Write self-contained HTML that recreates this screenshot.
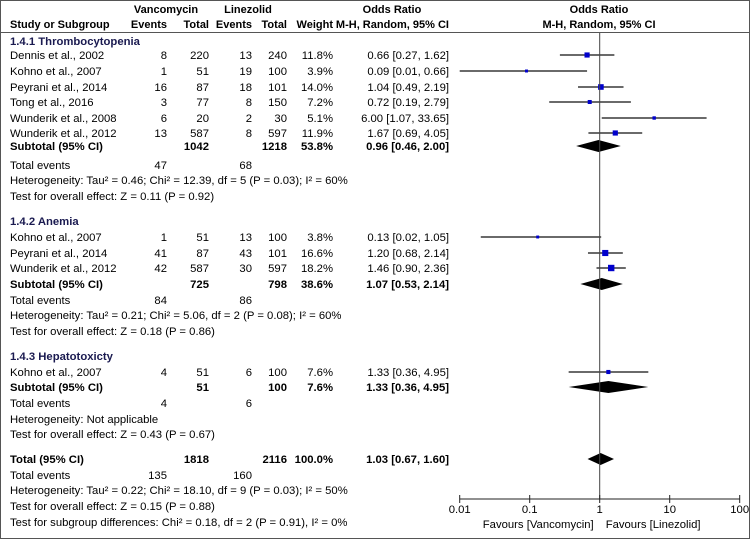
<!DOCTYPE html>
<html><head><meta charset="utf-8"><style>
html,body{margin:0;padding:0;background:#fff}
svg{display:block;font-family:"Liberation Sans",Arial,sans-serif;font-size:11.3px}
.b{font-weight:bold}.h{font-weight:bold;fill:#1a1a50}
.hd{font-size:11px}
</style></head><body>
<svg id="c" width="750" height="539">
<rect x="0.5" y="0.5" width="749" height="538" fill="#fff" stroke="#555"/>
<line x1="0" y1="32.5" x2="750" y2="32.5" stroke="#555"/>
<g class="b hd">
<text x="166" y="13" text-anchor="middle">Vancomycin</text>
<text x="248" y="13" text-anchor="middle">Linezolid</text>
<text x="392" y="13" text-anchor="middle">Odds Ratio</text>
<text x="599" y="13" text-anchor="middle">Odds Ratio</text>
<text x="10" y="28">Study or Subgroup</text>
<text x="167" y="28" text-anchor="end">Events</text>
<text x="209" y="28" text-anchor="end">Total</text>
<text x="252" y="28" text-anchor="end">Events</text>
<text x="287" y="28" text-anchor="end">Total</text>
<text x="333" y="28" text-anchor="end">Weight</text>
<text x="449" y="28" text-anchor="end">M-H, Random, 95% CI</text>
<text x="599" y="28" text-anchor="middle">M-H, Random, 95% CI</text>
</g>
<g id="rows"></g>
<g id="marks"></g>
</svg>
<script>
const studies=["Dennis et al., 2002","Kohno et al., 2007","Peyrani et al., 2014","Tong et al., 2016","Wunderik et al., 2008","Wunderik et al., 2012","Kohno et al., 2007","Peyrani et al., 2014","Wunderik et al., 2012","Kohno et al., 2007"];
const studyY=[55,71,87,102,118,133,237,253,268,372];
const vEvents=[8,1,16,3,6,13,1,41,42,4];
const vTotal=[220,51,87,77,20,587,51,87,587,51];
const lEvents=[13,19,18,8,2,8,13,43,30,6];
const lTotal=[240,100,101,150,30,597,100,101,597,100];
const weights=[11.8,3.9,14.0,7.2,5.1,11.9,3.8,16.6,18.2,7.6];
const orVal=[0.66,0.09,1.04,0.72,6.00,1.67,0.13,1.20,1.46,1.33];
const orLo=[0.27,0.01,0.49,0.19,1.07,0.69,0.02,0.68,0.90,0.36];
const orHi=[1.62,0.66,2.19,2.79,33.65,4.05,1.05,2.14,2.36,4.95];
const subLabels=["Subtotal (95% CI)","Subtotal (95% CI)","Subtotal (95% CI)","Total (95% CI)"];
const subY=[146,284,387,459];
const subVT=[1042,725,51,1818];
const subLT=[1218,798,100,2116];
const subW=["53.8%","38.6%","7.6%","100.0%"];
const subOR=[0.96,1.07,1.33,1.03];
const subLo=[0.46,0.53,0.36,0.67];
const subHi=[2.00,2.14,4.95,1.60];
const ticks=[0.01,0.1,1,10,100];
const tickLabels=["0.01","0.1","1","10","100"];

const NS="http://www.w3.org/2000/svg";
const rows=document.getElementById('rows'),marks=document.getElementById('marks');
function X(v){return 599.7+70*Math.log10(v);}
function mk(tag,attrs,parent,txt){const e=document.createElementNS(NS,tag);for(const k in attrs)e.setAttribute(k,attrs[k]);if(txt!==undefined)e.textContent=txt;parent.appendChild(e);return e;}
function T(x,y,s,anchor,cls){const e=mk('text',{x:x,y:y+4,'text-anchor':anchor||'start'},rows,s);if(cls)e.setAttribute('class',cls);return e;}
const f2=v=>v.toFixed(2);
const head=[["1.4.1 Thrombocytopenia",41],["1.4.2 Anemia",221],["1.4.3 Hepatotoxicty",356]];
head.forEach(h=>{const e=T(10,h[1],h[0],'start','h');

});
studies.forEach((s,i)=>{const y=studyY[i];
const e=T(10,y,s);


T(167,y,vEvents[i],'end');T(209,y,vTotal[i],'end');T(252,y,lEvents[i],'end');T(287,y,lTotal[i],'end');
T(333,y,weights[i].toFixed(1)+'%','end');
T(449,y,f2(orVal[i])+' ['+f2(orLo[i])+', '+f2(orHi[i])+']','end');
const l=mk('line',{x1:Math.max(X(orLo[i]),459.7),x2:Math.min(X(orHi[i]),739.7),y1:y,y2:y,stroke:'#111','stroke-width':1.2},marks);


const sz=Math.max(2,Math.sqrt(weights[i])*1.5);
const r=mk('rect',{x:X(orVal[i])-sz/2,y:y-sz/2,width:sz,height:sz,fill:'#0000cc'},marks);


});
subLabels.forEach((s,i)=>{const y=subY[i];
const e=T(10,y,s,'start','b');


T(209,y,subVT[i],'end','b');T(287,y,subLT[i],'end','b');T(333,y,subW[i],'end','b');
T(449,y,f2(subOR[i])+' ['+f2(subLo[i])+', '+f2(subHi[i])+']','end','b');
const d=mk('polygon',{points:`${X(subLo[i])},${y} ${X(subOR[i])},${y-6} ${X(subHi[i])},${y} ${X(subOR[i])},${y+6}`,fill:'#000'},marks);


});
const extra=[["Total events",165,"47","68"],["Heterogeneity: Tau² = 0.46; Chi² = 12.39, df = 5 (P = 0.03); I² = 60%",180],["Test for overall effect: Z = 0.11 (P = 0.92)",196],
["Total events",300,"84","86"],["Heterogeneity: Tau² = 0.21; Chi² = 5.06, df = 2 (P = 0.08); I² = 60%",315],["Test for overall effect: Z = 0.18 (P = 0.86)",331],
["Total events",403,"4","6"],["Heterogeneity: Not applicable",419],["Test for overall effect: Z = 0.43 (P = 0.67)",434],
["Total events",475,"135","160"],["Heterogeneity: Tau² = 0.22; Chi² = 18.10, df = 9 (P = 0.03); I² = 50%",490],["Test for overall effect: Z = 0.15 (P = 0.88)",506],["Test for subgroup differences: Chi² = 0.18, df = 2 (P = 0.91), I² = 0%",522]];
extra.forEach(r=>{const e=T(10,r[1],r[0]);


if(r[2]){T(167,r[1],r[2],'end');T(252,r[1],r[3],'end');}});
const v=mk('line',{x1:X(1),x2:X(1),y1:33,y2:499,stroke:'#444'},marks);


const ax=mk('line',{x1:X(0.01),x2:X(100),y1:499,y2:499,stroke:'#222'},marks);


ticks.forEach((t,i)=>{const tk=mk('line',{x1:X(t),x2:X(t),y1:495,y2:503,stroke:'#222'},marks);


const lb=mk('text',{x:X(t),y:513,'text-anchor':'middle'},marks,tickLabels[i]);

});
const f1=mk('text',{x:X(1)-6,y:528,'text-anchor':'end'},marks,'Favours [Vancomycin]');


const f3=mk('text',{x:X(1)+6,y:528,'text-anchor':'start'},marks,'Favours [Linezolid]');


</script>
</body></html>
